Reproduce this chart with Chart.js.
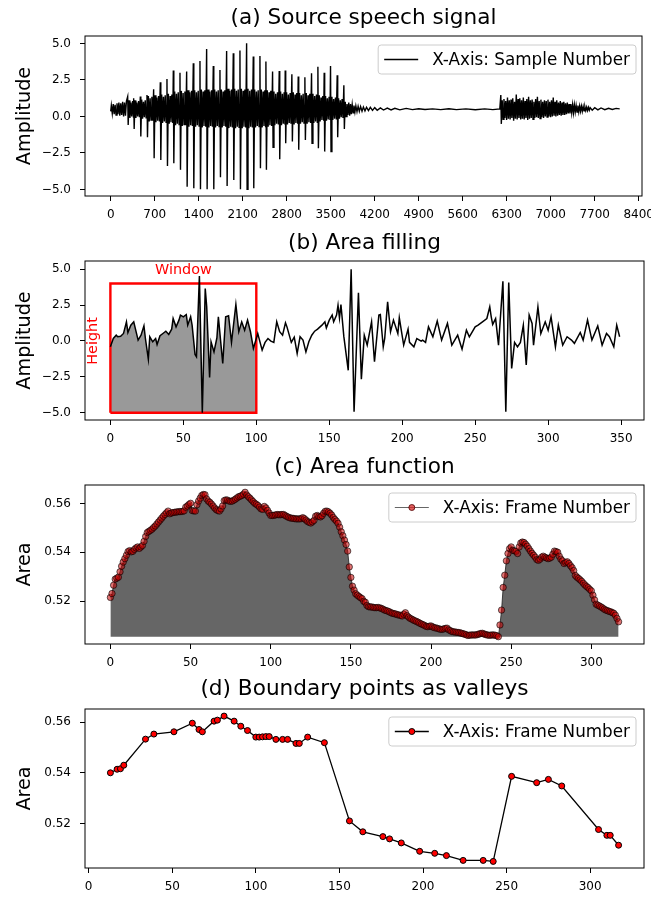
<!DOCTYPE html>
<html>
<head>
<meta charset="utf-8">
<script src="https://cdn.jsdelivr.net/npm/chart.js@4.4.1/dist/chart.umd.min.js"></script>
<style>
  body { margin: 0; background: #fff; }
  canvas { position: absolute; left: 0; }
</style>
</head>
<body>
<canvas id="speechChart" width="651" height="225" style="top:0px"></canvas>
<canvas id="windowChart" width="651" height="225" style="top:225px"></canvas>
<canvas id="areaChart" width="651" height="222" style="top:450px"></canvas>
<canvas id="valleyChart" width="651" height="231" style="top:672px"></canvas>
<script>
// (a) source speech signal (sample number, amplitude)
const speechSample = [
  0, 10, 25, 40, 55, 70, 85, 100, 115, 130, 145, 160, 175, 190, 205, 220, 235, 250,
  270, 278, 292, 306, 320, 334, 348, 362,
  365, 373, 387, 401, 415, 429, 443, 457,
  471, 479, 493, 507, 521, 535, 549, 563,
  577, 585, 599, 613, 627, 641, 655, 669,
  683, 691, 705, 719, 733, 747, 761, 775,
  789, 797, 811, 825, 839, 853, 867, 881,
  895, 903, 917, 931, 945, 959, 973, 987,
  996, 1004, 1018, 1032, 1046, 1060, 1074, 1088,
  1102, 1110, 1124, 1138, 1152, 1166, 1180, 1194,
  1208, 1216, 1230, 1244, 1258, 1272, 1286, 1300,
  1314, 1322, 1336, 1350, 1364, 1378, 1392, 1406,
  1420, 1428, 1442, 1456, 1470, 1484, 1498, 1512,
  1526, 1534, 1548, 1562, 1576, 1590, 1604, 1618,
  1632, 1640, 1654, 1668, 1682, 1696, 1710, 1724,
  1738, 1746, 1760, 1774, 1788, 1802, 1816, 1830,
  1844, 1852, 1866, 1880, 1894, 1908, 1922, 1936,
  1950, 1958, 1972, 1986, 2000, 2014, 2028, 2042,
  2056, 2064, 2078, 2092, 2106, 2120, 2134, 2148,
  2162, 2170, 2184, 2198, 2212, 2226, 2240, 2254,
  2268, 2276, 2290, 2304, 2318, 2332, 2346, 2360,
  2374, 2382, 2396, 2410, 2424, 2438, 2452, 2464,
  2469, 2477, 2491, 2505, 2519, 2533, 2547, 2561,
  2575, 2583, 2597, 2611, 2625, 2639, 2653, 2667,
  2681, 2689, 2703, 2717, 2731, 2745, 2759, 2771,
  2776, 2784, 2798, 2812, 2826, 2840, 2854, 2868,
  2882, 2890, 2904, 2918, 2932, 2946, 2960, 2974,
  2983, 2991, 3005, 3019, 3033, 3047, 3061, 3075,
  3089, 3097, 3111, 3125, 3139, 3153, 3167, 3181,
  3195, 3203, 3217, 3231, 3245, 3259, 3273, 3287,
  3296, 3304, 3318, 3332, 3346, 3360, 3374, 3388,
  3396, 3404, 3418, 3432, 3446, 3460, 3474, 3488,
  3497, 3505, 3519, 3533, 3547, 3561, 3575, 3589,
  3603, 3611, 3625, 3639, 3653, 3667, 3681, 3695,
  3709, 3717, 3731, 3745, 3759, 3773, 3787, 3801,
  3815, 3828, 3842, 3856, 3870, 3885, 3900, 3918, 3936, 3955,
  3975, 3998, 4020, 4045, 4070, 4100, 4130, 4165, 4200, 4240,
  4290, 4340, 4400, 4460, 4520, 4600, 4700, 4800, 4900, 5000,
  5120, 5250, 5380, 5500, 5650, 5800, 5950, 6080, 6190,
  6206, 6214,
  6228, 6242, 6256, 6270, 6284, 6298, 6312, 6326, 6340, 6354,
  6368, 6382, 6396, 6410, 6424, 6438, 6452, 6466, 6480, 6494,
  6508, 6522, 6536, 6550, 6564, 6578, 6592, 6606, 6620, 6634,
  6648, 6662, 6676, 6690, 6704, 6718, 6732, 6746, 6760, 6774,
  6788, 6802, 6816, 6830, 6844, 6858, 6872, 6886, 6900, 6914,
  6928, 6942, 6956, 6970, 6984, 6998, 7012, 7026, 7040, 7054,
  7068, 7082, 7096, 7110, 7124, 7138, 7152, 7166, 7180, 7194,
  7208, 7222, 7236, 7250, 7264, 7278, 7292, 7306, 7320, 7334,
  7348, 7362, 7376, 7390, 7404, 7418, 7432, 7446, 7460, 7474,
  7488, 7502, 7516, 7530, 7544, 7558, 7572, 7586, 7600, 7614,
  7628,
  7660, 7700, 7750, 7800, 7860, 7920, 7980, 8040, 8097
];
const speechAmp = [
  0.35, 0.75, 0.2, 0.85, 0.15, 0.8, 0.1, 0.9, 0.15, 0.95, 0.05, 0.9, 0.1, 1.0, 0.0, 0.95, 0.05, 1.05,
  1.36, -0.58, 1.1, -0.1, 0.95, 0.0, 1.05, -0.05,
  1.24, -0.86, 1.1, -0.1, 0.95, 0.0, 1.05, -0.05,
  1.36, -1.38, 1.15, -0.15, 1.0, -0.05, 1.1, -0.1,
  1.47, -1.43, 1.4, -0.35, 1.25, -0.25, 1.35, -0.3,
  1.86, -2.87, 1.45, -0.4, 1.3, -0.3, 1.4, -0.35,
  2.34, -2.98, 1.5, -0.45, 1.35, -0.35, 1.45, -0.4,
  2.57, -3.39, 1.55, -0.5, 1.4, -0.4, 1.5, -0.45,
  3.14, -3.21, 1.7, -0.6, 1.55, -0.5, 1.65, -0.55,
  3.0, -3.66, 1.75, -0.65, 1.6, -0.55, 1.7, -0.6,
  3.07, -4.81, 1.8, -0.7, 1.65, -0.6, 1.75, -0.65,
  3.64, -4.92, 1.8, -0.7, 1.65, -0.6, 1.75, -0.65,
  3.8, -4.99, 1.85, -0.75, 1.7, -0.65, 1.8, -0.7,
  4.62, -4.99, 1.85, -0.75, 1.7, -0.65, 1.8, -0.7,
  3.46, -4.99, 1.85, -0.75, 1.7, -0.65, 1.8, -0.7,
  3.18, -4.17, 1.85, -0.75, 1.7, -0.65, 1.8, -0.7,
  4.49, -4.76, 1.9, -0.8, 1.75, -0.7, 1.85, -0.75,
  4.33, -4.35, 1.9, -0.8, 1.75, -0.7, 1.85, -0.75,
  4.51, -4.99, 1.9, -0.8, 1.75, -0.7, 1.85, -0.75,
  5.01, -4.99, 1.9, -0.8, 1.75, -0.7, 1.85, -0.75,
  4.1, -4.92, 1.85, -0.75, 1.7, -0.65, 1.8, -0.7,
  4.14, -3.55, 1.85, -0.75, 1.7, -0.65, 1.8, -0.7,
  3.76, -3.66, 1.8, -0.7, 1.65, -0.6, 1.75, -0.65,
  3.07, -2.11, 1.7, -0.6, 1.55, -0.5, 1.65, -0.55,
  3.12, -2.93, 1.7, -0.6, 1.55, -0.5, 1.65, -0.55,
  3.14, -1.84, 1.65, -0.55, 1.5, -0.45, 1.6, -0.5,
  2.89, -1.72, 1.65, -0.55, 1.5, -0.45, 1.6, -0.5,
  2.73, -2.29, 1.6, -0.5, 1.45, -0.4, 1.55, -0.45,
  2.68, -1.61, 1.6, -0.5, 1.45, -0.4, 1.55, -0.45,
  2.96, -1.84, 1.55, -0.45, 1.4, -0.35, 1.5, -0.4,
  3.41, -2.18, 1.45, -0.35, 1.3, -0.25, 1.4, -0.3,
  3.0, -2.41, 1.4, -0.3, 1.25, -0.2, 1.35, -0.25,
  3.46, -2.41, 1.35, -0.25, 1.2, -0.15, 1.3, -0.2,
  2.82, -1.43, 1.25, -0.15, 1.1, -0.05, 1.2, -0.1,
  2.13, -0.86, 1.0, 0.0, 0.85, 0.1, 0.95, 0.05,
  0.85, 0.15, 0.8, 0.25, 0.75, 0.3, 0.72, 0.32, 0.7, 0.35,
  0.68, 0.36, 0.65, 0.38, 0.63, 0.4, 0.62, 0.41, 0.6, 0.42,
  0.58, 0.44, 0.57, 0.45, 0.56, 0.45, 0.55, 0.47, 0.53, 0.48,
  0.52, 0.47, 0.53, 0.47, 0.52, 0.46, 0.52, 0.47, 0.52,
  1.47, -0.51,
  1.1, -0.2, 1.2, -0.1, 1.05, -0.25, 1.3, -0.15, 1.1, -0.2,
  1.15, -0.1, 1.25, -0.3, 1.0, -0.15, 1.5, -0.2, 1.2, -0.1,
  1.25, -0.2, 1.1, -0.15, 1.3, -0.2, 1.05, -0.1, 1.2, -0.25,
  1.35, -0.15, 1.1, -0.1, 1.15, -0.2, 1.0, -0.1, 1.2, -0.05,
  1.35, -0.1, 1.05, -0.15, 1.15, -0.05, 1.0, -0.1, 1.1, 0.0,
  1.05, -0.05, 1.15, 0.0, 1.0, -0.05, 1.1, 0.0, 1.3, 0.05,
  1.0, 0.0, 1.1, 0.05, 0.95, 0.1, 1.05, 0.05, 0.95, 0.1,
  1.0, 0.1, 0.9, 0.15, 0.95, 0.2, 0.85, 0.2, 0.85, 0.25,
  0.8, 0.25, 0.8, 0.3, 0.75, 0.3, 0.75, 0.32, 0.72, 0.35,
  0.7, 0.35, 0.68, 0.38, 0.66, 0.4, 0.64, 0.4, 0.62, 0.42,
  0.6,
  0.43, 0.6, 0.45, 0.58, 0.46, 0.56, 0.48, 0.55, 0.52
];
const speechTicks = [0, 700, 1400, 2100, 2800, 3500, 4200, 4900, 5600, 6300, 7000, 7700, 8400];
const amplitudeTicks = [-5, -2.5, 0, 2.5, 5];

// (b) area filling: zoomed signal and the window drawn over it
const zoomSample = [
  0, 2, 4, 5, 7, 9, 11, 12, 14, 16,
  19, 21, 23, 24, 26, 27, 29, 31, 32, 34,
  36, 38, 40, 42, 43, 45, 47, 48, 50, 52,
  53, 55, 56, 58, 59, 61, 63, 65, 66, 68,
  69, 71, 73, 74, 77, 79, 81, 83, 86, 88,
  90, 92, 94, 96, 98, 100, 101, 104, 106, 108,
  110, 112, 114, 116, 118, 120, 121, 124, 126, 128,
  130, 132, 134, 136, 138, 140, 142, 145, 147, 148,
  150, 152, 153, 155, 156, 157, 158, 160, 163, 165,
  167, 170, 172, 174, 176, 179, 181, 184, 185, 187,
  188, 190, 192, 194, 197, 198, 201, 204, 205, 208,
  210, 213, 214, 216, 218, 221, 224, 227, 231, 234,
  236, 238, 241, 244, 246, 250, 252, 255, 258, 260,
  261, 262, 264, 266, 269, 271, 273, 275, 277, 279,
  281, 283, 285, 287, 289, 290, 293, 295, 298, 300,
  302, 305, 307, 310, 313, 316, 318, 322, 324, 327,
  330, 334, 337, 340, 342, 345, 347, 349
];
const zoomAmp = [
  -0.41, 0.17, 0.40, 0.29, 0.33, 0.52, 1.33, 0.59, 1.10, 1.33,
  0.06, 0.40, 1.05, 0.17, -1.27, 0.29, -0.06, 0.17, -0.25, 0.36,
  0.52, 0.68, 0.45, 0.82, 1.56, 0.98, 1.45, 1.80, 1.68, 1.84,
  1.10, 1.68, 1.10, -0.94, -1.10, 4.53, -5.00, 3.65, 2.40, -2.55,
  -0.06, -0.76, 0.22, 1.68, -1.57, 1.68, 1.75, -0.10, 2.54, 0.64,
  1.33, 0.75, 1.45, 0.64, -0.52, 0.17, 0.52, -0.64, -0.10, 0.17,
  -0.01, -0.10, 1.33, 0.64, 0.40, 1.26, 0.98, -0.10, 0.26, -0.87,
  0.29, 0.06, -0.76, -0.06, 0.40, 0.68, 0.82, 1.10, 1.33, 0.91,
  1.45, 1.80, 1.33, 1.80, 2.49, 1.60, 2.54, 0.30, -2.05, 5.00,
  -4.93, 3.35, -2.66, 0.40, -0.29, 1.33, -1.45, 1.80, 1.84, -0.41,
  0.17, 2.72, 0.64, 1.45, 0.52, 1.61, -0.29, 0.82, -0.10, -0.41,
  0.17, -0.01, 0.06, -0.10, 0.98, 0.29, 1.38, 0.06, 1.22, -0.29,
  0.06, 0.40, -0.57, 0.75, 0.29, 0.98, 1.10, 1.33, 1.56, 2.37,
  1.68, 1.15, 1.56, -0.29, 4.16, -4.93, 4.07, -1.92, -0.10, -0.41,
  -0.10, 1.10, -1.68, 1.80, 1.22, -0.29, 2.37, 0.52, 1.33, 0.75,
  1.68, -0.41, 1.10, -0.29, 0.29, 0.06, -0.17, 0.59, 0.06, 1.45,
  0.06, 1.05, -0.29, 0.52, 0.29, -0.41, 1.10, 0.29
];
const zoomTicks = [0, 50, 100, 150, 200, 250, 300, 350];
const windowStart = 0, windowEnd = 100, windowTop = 4, windowBottom = -5;

// (c) area function, one value per frame (frames 0..317)
const areaValues = [
  0.5215, 0.5231, 0.5265, 0.5290, 0.5294, 0.5298, 0.5320, 0.5343, 0.5360, 0.5374,
  0.5388, 0.5403, 0.5407, 0.5402, 0.5404, 0.5412, 0.5418, 0.5422, 0.5416, 0.5422,
  0.5428, 0.5445, 0.5465, 0.5481, 0.5486, 0.5490, 0.5495, 0.5502, 0.5508, 0.5516,
  0.5524, 0.5532, 0.5540, 0.5548, 0.5555, 0.5562, 0.5569, 0.5558, 0.5561, 0.5563,
  0.5564, 0.5565, 0.5566, 0.5567, 0.5567, 0.5568, 0.5570, 0.5585, 0.5590, 0.5596,
  0.5601, 0.5571, 0.5570, 0.5569, 0.5595, 0.5610, 0.5622, 0.5633, 0.5637, 0.5636,
  0.5619, 0.5610, 0.5605, 0.5598, 0.5590, 0.5582, 0.5575, 0.5571, 0.5569, 0.5578,
  0.5590, 0.5612, 0.5615, 0.5614, 0.5610, 0.5609, 0.5610, 0.5614, 0.5618, 0.5623,
  0.5628, 0.5630, 0.5633, 0.5638, 0.5646, 0.5635, 0.5628, 0.5622, 0.5615, 0.5608,
  0.5601, 0.5597, 0.5592, 0.5585, 0.5578, 0.5576, 0.5588, 0.5582, 0.5572, 0.5561,
  0.5551, 0.5551, 0.5552, 0.5553, 0.5555, 0.5554, 0.5554, 0.5555, 0.5555, 0.5551,
  0.5547, 0.5544, 0.5541, 0.5540, 0.5539, 0.5538, 0.5537, 0.5537, 0.5537, 0.5538,
  0.5542, 0.5538, 0.5532, 0.5526, 0.5523, 0.5520, 0.5525, 0.5531, 0.5548, 0.5551,
  0.5547, 0.5545, 0.5550, 0.5560, 0.5568, 0.5569, 0.5566, 0.5560, 0.5553, 0.5543,
  0.5535, 0.5528, 0.5519, 0.5503, 0.5484, 0.5468, 0.5450, 0.5432, 0.5405, 0.5340,
  0.5297, 0.5261, 0.5245, 0.5230, 0.5224, 0.5219, 0.5214, 0.5210, 0.5199, 0.5195,
  0.5182, 0.5177, 0.5176, 0.5176, 0.5174, 0.5173, 0.5173, 0.5174, 0.5172, 0.5170,
  0.5167, 0.5163, 0.5161, 0.5159, 0.5156, 0.5152, 0.5150, 0.5148, 0.5147, 0.5144,
  0.5143, 0.5141, 0.5139, 0.5146, 0.5152, 0.5140, 0.5134, 0.5129, 0.5126, 0.5122,
  0.5119, 0.5116, 0.5113, 0.5109, 0.5106, 0.5103, 0.5100, 0.5096, 0.5095, 0.5097,
  0.5098, 0.5094, 0.5091, 0.5090, 0.5088, 0.5086, 0.5084, 0.5084, 0.5086, 0.5088,
  0.5089, 0.5082, 0.5079, 0.5075, 0.5074, 0.5073, 0.5072, 0.5071, 0.5070, 0.5068,
  0.5066, 0.5064, 0.5062, 0.5059, 0.5060, 0.5061, 0.5061, 0.5061, 0.5061, 0.5063,
  0.5065, 0.5067, 0.5068, 0.5065, 0.5063, 0.5061, 0.5060, 0.5060, 0.5061, 0.5061,
  0.5060, 0.5058, 0.5054, 0.5102, 0.5163, 0.5256, 0.5306, 0.5365, 0.5395, 0.5415,
  0.5422, 0.5408, 0.5406, 0.5404, 0.5395, 0.5422, 0.5438, 0.5442, 0.5440, 0.5433,
  0.5425, 0.5415, 0.5405, 0.5396, 0.5388, 0.5380, 0.5370, 0.5367, 0.5372, 0.5380,
  0.5384, 0.5380, 0.5377, 0.5374, 0.5376, 0.5380, 0.5392, 0.5405, 0.5403, 0.5400,
  0.5384, 0.5372, 0.5365, 0.5354, 0.5358, 0.5361, 0.5354, 0.5345, 0.5337, 0.5325,
  0.5305, 0.5298, 0.5293, 0.5287, 0.5281, 0.5273, 0.5266, 0.5260, 0.5255, 0.5248,
  0.5242, 0.5224, 0.5205, 0.5187, 0.5183, 0.5180, 0.5176, 0.5172, 0.5167, 0.5163,
  0.5161, 0.5158, 0.5156, 0.5153, 0.5150, 0.5142, 0.5129, 0.5115
];
const frameTicks = [0, 50, 100, 150, 200, 250, 300];
const areaTicks = [0.52, 0.54, 0.56];

// (d) boundary points (valleys of the area function)
const valleyFrames = [13, 17, 19, 21, 34, 39, 51, 62, 66, 68, 75, 77, 81, 87, 91, 95, 100, 102, 104, 106,
  108, 112, 116, 119, 124, 126, 131, 141, 156, 164, 176, 180, 187, 198, 207, 214, 224, 236, 242, 253,
  268, 275, 283, 305, 310, 312, 317];
const valleyArea = [0.5400, 0.5414, 0.5416, 0.5430, 0.5533, 0.5553, 0.5562, 0.5596, 0.5571, 0.5562,
  0.5604, 0.5608, 0.5624, 0.5604, 0.5584, 0.5567, 0.5541, 0.5541, 0.5542, 0.5543,
  0.5543, 0.5532, 0.5532, 0.5532, 0.5516, 0.5516, 0.5541, 0.5519, 0.5210, 0.5167,
  0.5148, 0.5139, 0.5123, 0.5090, 0.5082, 0.5073, 0.5054, 0.5054, 0.5050, 0.5386,
  0.5361, 0.5374, 0.5348, 0.5176, 0.5153, 0.5153, 0.5114];

const FONT = "'DejaVu Sans', sans-serif";
Chart.defaults.font.family = FONT;
Chart.defaults.color = '#000';

const minusFmt = (digits) => (v) => (v < 0 ? '\u2212' : '') + Math.abs(v).toFixed(digits);

// black box round the plot, like matplotlib spines
const framePlugin = {
  id: 'frame',
  afterDatasetsDraw(chart) {
    const { ctx, chartArea: a } = chart;
    ctx.save();
    ctx.strokeStyle = '#000';
    ctx.lineWidth = 1;
    ctx.strokeRect(a.left, a.top, a.right - a.left, a.bottom - a.top);
    ctx.restore();
  }
};

// matplotlib style legend box in the upper right corner
const boxLegend = {
  id: 'boxLegend',
  afterDraw(chart, args, opts) {
    if (!opts.text) return;
    const { ctx, chartArea: a } = chart;
    ctx.save();
    ctx.font = '16.8px ' + FONT;
    const tw = ctx.measureText(opts.text).width;
    const w = 54 + tw + 6, h = 29;
    const x = a.right - opts.right - w, y = a.top + opts.top;
    ctx.beginPath();
    ctx.roundRect(x, y, w, h, 3);
    ctx.fillStyle = 'rgba(255,255,255,0.8)';
    ctx.fill();
    ctx.strokeStyle = '#cccccc';
    ctx.lineWidth = 1;
    ctx.stroke();
    const cy = y + h / 2;
    ctx.beginPath();
    ctx.moveTo(x + 6, cy);
    ctx.lineTo(x + 40, cy);
    ctx.strokeStyle = opts.lineColor;
    ctx.lineWidth = opts.lineWidth;
    ctx.stroke();
    if (opts.marker) {
      ctx.beginPath();
      ctx.arc(x + 23, cy, opts.marker.radius, 0, Math.PI * 2);
      ctx.fillStyle = opts.marker.fill;
      ctx.fill();
      ctx.strokeStyle = opts.marker.stroke;
      ctx.lineWidth = 1;
      ctx.stroke();
    }
    ctx.fillStyle = '#000';
    ctx.textBaseline = 'middle';
    ctx.fillText(opts.text, x + 54, cy + 1);
    ctx.restore();
  }
};

// red "Window" / "Height" captions in panel (b)
const windowLabels = {
  id: 'windowLabels',
  afterDatasetsDraw(chart, args, opts) {
    if (!opts.show) return;
    const { ctx, scales: { x, y } } = chart;
    ctx.save();
    ctx.fillStyle = '#ff0000';
    ctx.font = '14.4px ' + FONT;
    ctx.textAlign = 'center';
    ctx.textBaseline = 'middle';
    ctx.fillText('Window', x.getPixelForValue(opts.windowX), y.getPixelForValue(opts.windowY));
    ctx.translate(x.getPixelForValue(opts.heightX), y.getPixelForValue(opts.heightY));
    ctx.rotate(-Math.PI / 2);
    ctx.fillText('Height', 0, 0);
    ctx.restore();
  }
};

function makePanel(id, g, cfg) {
  const lh = 21.6 * 1.2;
  const padTop = g.titleY - g.top - lh / 2;
  const padBottom = g.plotTop - g.top - padTop - lh;
  const tickFont = { color: '#000', font: { size: 12 }, maxRotation: 0, autoSkip: false };
  const gridStyle = { display: true, drawOnChartArea: false, drawTicks: true, tickLength: 5, tickColor: '#000', tickWidth: 1 };
  return new Chart(document.getElementById(id), {
    type: 'line',
    data: { datasets: cfg.datasets },
    options: {
      responsive: false,
      animation: false,
      devicePixelRatio: 1,
      layout: { padding: { left: 0, right: 651 - g.right, top: 0, bottom: 0 } },
      plugins: {
        legend: { display: false },
        tooltip: { enabled: false },
        title: {
          display: true, text: cfg.title, fullSize: false, color: '#000',
          font: { size: 21.6, weight: 'normal' },
          padding: { top: padTop, bottom: padBottom }
        },
        boxLegend: cfg.legend || {},
        windowLabels: cfg.labels || {}
      },
      scales: {
        x: {
          type: 'linear', min: cfg.xMin, max: cfg.xMax,
          grid: gridStyle, border: { display: false },
          ticks: Object.assign({ callback: (v) => String(v), padding: 7 }, tickFont),
          afterBuildTicks: (s) => { s.ticks = cfg.xTicks.map((v) => ({ value: v })); },
          afterFit: (s) => { s.height = g.top + g.height - g.plotBottom; s.paddingLeft = 0; s.paddingRight = 0; }
        },
        y: {
          type: 'linear', min: cfg.yMin, max: cfg.yMax,
          grid: gridStyle, border: { display: false },
          ticks: Object.assign({ callback: cfg.yFmt, padding: 9 }, tickFont),
          title: { display: true, text: cfg.yTitle, color: '#000', font: { size: 19.2 }, padding: { top: 13.5, bottom: 0 } },
          afterBuildTicks: (s) => { s.ticks = cfg.yTicks.map((v) => ({ value: v })); },
          afterFit: (s) => { s.width = g.left; s.paddingTop = 0; s.paddingBottom = 0; }
        }
      }
    },
    plugins: [framePlugin, boxLegend, windowLabels]
  });
}

// (a)
makePanel('speechChart', { top: 0, height: 225, left: 85, right: 642, plotTop: 36, plotBottom: 196, titleY: 18 }, {
  title: '(a) Source speech signal', yTitle: 'Amplitude',
  xMin: -409, xMax: 8452, xTicks: speechTicks,
  yMin: -5.45, yMax: 5.51, yTicks: amplitudeTicks, yFmt: minusFmt(1),
  legend: { text: 'X-Axis: Sample Number', right: 6, top: 9, lineColor: '#000', lineWidth: 1.5 },
  datasets: [{
    data: speechSample.map((s, i) => ({ x: s, y: speechAmp[i] })),
    borderColor: '#000', borderWidth: 1.4, pointRadius: 0, tension: 0, fill: false
  }]
});

// (b)
const windowFill = zoomSample
  .map((s, i) => ({ x: s, y: zoomAmp[i] }))
  .filter((p) => p.x >= windowStart && p.x <= windowEnd);
makePanel('windowChart', { top: 225, height: 225, left: 85, right: 644, plotTop: 261, plotBottom: 420, titleY: 243 }, {
  title: '(b) Area filling', yTitle: 'Amplitude',
  xMin: -17.4, xMax: 365.7, xTicks: zoomTicks,
  yMin: -5.51, yMax: 5.57, yTicks: amplitudeTicks, yFmt: minusFmt(1),
  labels: { show: true, windowX: 50, windowY: 4.9, heightX: -12, heightY: 0 },
  datasets: [
    {
      data: zoomSample.map((s, i) => ({ x: s, y: zoomAmp[i] })),
      borderColor: '#000', borderWidth: 1.5, pointRadius: 0, tension: 0, fill: false, order: 0
    },
    {
      data: [
        { x: windowStart, y: windowBottom }, { x: windowStart, y: windowTop },
        { x: windowEnd, y: windowTop }, { x: windowEnd, y: windowBottom },
        { x: windowStart, y: windowBottom }
      ],
      borderColor: '#ff0000', borderWidth: 2.4, pointRadius: 0, tension: 0, fill: false, order: 1
    },
    {
      data: windowFill,
      borderWidth: 0, borderColor: 'rgba(0,0,0,0)', backgroundColor: '#999999',
      pointRadius: 0, tension: 0, fill: { value: windowBottom }, order: 2
    }
  ]
});

// (c)
makePanel('areaChart', { top: 450, height: 222, left: 85, right: 644, plotTop: 485, plotBottom: 644, titleY: 467 }, {
  title: '(c) Area function', yTitle: 'Area',
  xMin: -15.85, xMax: 332.85, xTicks: frameTicks,
  yMin: 0.5024, yMax: 0.5676, yTicks: areaTicks, yFmt: (v) => v.toFixed(2),
  legend: {
    text: 'X-Axis: Frame Number', right: 8, top: 8, lineColor: '#666666', lineWidth: 1.2,
    marker: { radius: 3, fill: 'rgba(215,40,40,0.75)', stroke: 'rgba(80,0,0,0.8)' }
  },
  datasets: [{
    data: areaValues.map((v, i) => ({ x: i, y: v })),
    borderColor: 'rgba(30,30,30,0.8)', borderWidth: 1,
    pointRadius: 3.2, pointBackgroundColor: 'rgba(200,0,0,0.55)',
    pointBorderColor: 'rgba(0,0,0,0.6)', pointBorderWidth: 1,
    backgroundColor: '#666666', fill: { value: Math.min(...areaValues) }, tension: 0
  }]
});

// (d)
makePanel('valleyChart', { top: 672, height: 231, left: 85, right: 644, plotTop: 709, plotBottom: 868, titleY: 689 }, {
  title: '(d) Boundary points as valleys', yTitle: 'Area',
  xMin: -2.2, xMax: 332.2, xTicks: frameTicks,
  yMin: 0.5024, yMax: 0.5652, yTicks: areaTicks, yFmt: (v) => v.toFixed(2),
  legend: {
    text: 'X-Axis: Frame Number', right: 8, top: 8, lineColor: '#000', lineWidth: 1.5,
    marker: { radius: 3, fill: '#ff0000', stroke: '#000' }
  },
  datasets: [{
    data: valleyFrames.map((f, i) => ({ x: f, y: valleyArea[i] })),
    borderColor: '#000', borderWidth: 1.3,
    pointRadius: 3, pointBackgroundColor: '#ff0000', pointBorderColor: '#000', pointBorderWidth: 1,
    fill: false, tension: 0
  }]
});
</script>
</body>
</html>
